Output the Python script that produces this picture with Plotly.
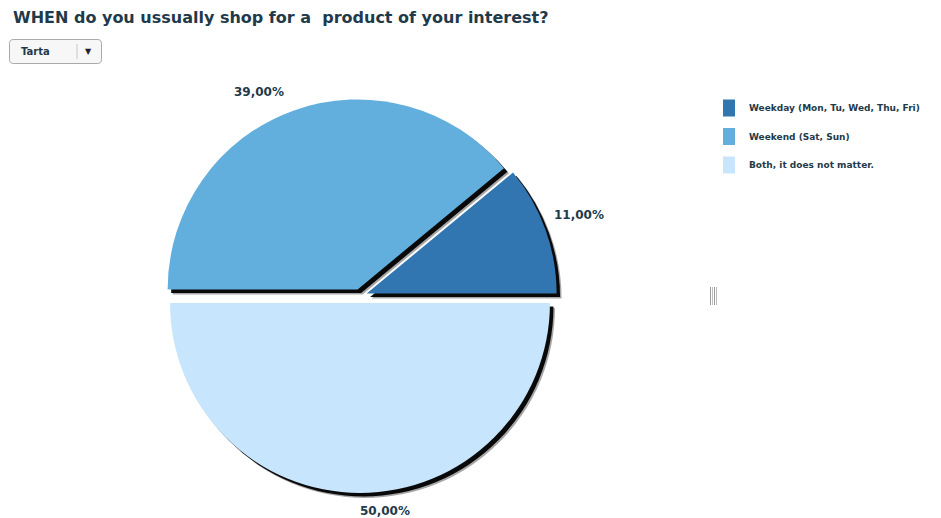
import plotly.graph_objects as go

# Survey answers and their shares (%)
labels = ["Weekday (Mon, Tu, Wed, Thu, Fri)", "Weekend (Sat, Sun)", "Both, it does not matter."]
values = [11.0, 39.0, 50.0]
colors = ["#3176B0", "#62AFDE", "#C7E5FC"]
title_text = "WHEN do you ussually shop for a \u00a0product of your interest?"
chart_type = "Tarta"

W, H = 941, 518
TXT = "#1F3A4A"
FONT = "DejaVu Sans"

# Pie geometry in pixels
cx, cy, size = 360, 296, 394
pull = 0.037
# first slice starts at 3 o'clock and the slices run counterclockwise
rotation = 90 - 360 * values[0] / sum(values)


def dom(px_cx, px_cy):
    return dict(x=[(px_cx - size / 2) / W, (px_cx + size / 2) / W],
                y=[1 - (px_cy + size / 2) / H, 1 - (px_cy - size / 2) / H])


fig = go.Figure()

# drop shadow under the slices
for off, col in [(5, "rgba(0,0,0,0.35)"), (3.5, "rgba(0,0,0,0.95)")]:
    fig.add_trace(go.Pie(
        labels=labels, values=values, sort=False, direction="counterclockwise",
        rotation=rotation, pull=pull, textinfo="none", hoverinfo="skip",
        marker=dict(colors=[col] * len(values), line=dict(width=0)),
        domain=dom(cx + off, cy + off), showlegend=False,
    ))

fig.add_trace(go.Pie(
    labels=labels, values=values, sort=False, direction="counterclockwise",
    rotation=rotation, pull=pull, textinfo="none",
    marker=dict(colors=colors, line=dict(width=0)),
    domain=dom(cx, cy), showlegend=False,
))

# percentage labels
label_pos = [(579, 215), (259, 92), (385, 511)]
for v, (lx, ly) in zip(values, label_pos):
    fig.add_annotation(x=lx / W, y=1 - ly / H, xref="paper", yref="paper",
                       text=f"{v:.2f}".replace(".", ",") + "%", showarrow=False,
                       xanchor="center", yanchor="middle",
                       font=dict(family=FONT, size=12, color=TXT, weight="bold"))

# title
fig.add_annotation(x=11 / W, y=1 - 17 / H, xref="paper", yref="paper", text=title_text,
                   showarrow=False, xanchor="left", yanchor="middle",
                   font=dict(family=FONT, size=16, color=TXT, weight="bold"))

# legend
shapes = []
for i, (lab, col) in enumerate(zip(labels, colors)):
    yc = 108 + i * 28.5
    shapes.append(dict(type="rect", xref="paper", yref="paper",
                       x0=723 / W, x1=735 / W, y0=1 - (yc + 8.5) / H, y1=1 - (yc - 8.5) / H,
                       fillcolor=col, line=dict(width=0), layer="above"))
    fig.add_annotation(x=747 / W, y=1 - yc / H, xref="paper", yref="paper", text=lab,
                       showarrow=False, xanchor="left", yanchor="middle",
                       font=dict(family=FONT, size=9, color=TXT, weight="bold"))

# chart type selector
x0, y0, x1, y1, rr = 9.5, 39.5, 101.5, 63.5, 4


def px(x, y):
    return f"{x / W:.5f},{1 - y / H:.5f}"


path = (f"M {px(x0 + rr, y0)} L {px(x1 - rr, y0)} Q {px(x1, y0)} {px(x1, y0 + rr)} "
        f"L {px(x1, y1 - rr)} Q {px(x1, y1)} {px(x1 - rr, y1)} L {px(x0 + rr, y1)} "
        f"Q {px(x0, y1)} {px(x0, y1 - rr)} L {px(x0, y0 + rr)} Q {px(x0, y0)} {px(x0 + rr, y0)} Z")
shapes.append(dict(type="path", xref="paper", yref="paper", path=path,
                   fillcolor="#F7F7F7", line=dict(color="#A8A8A8", width=1)))
shapes.append(dict(type="line", xref="paper", yref="paper",
                   x0=77 / W, x1=77 / W, y0=1 - 44 / H, y1=1 - 59 / H,
                   line=dict(color="#C8C8C8", width=1)))
fig.add_annotation(x=19 / W, y=1 - 51.5 / H, xref="paper", yref="paper", text=chart_type,
                   showarrow=False, xanchor="left", yanchor="middle",
                   font=dict(family=FONT, size=10, color=TXT, weight="bold"))
fig.add_annotation(x=88.5 / W, y=1 - 51.5 / H, xref="paper", yref="paper", text="\u25BC",
                   showarrow=False, xanchor="center", yanchor="middle",
                   font=dict(family=FONT, size=8, color="#222222"))

# splitter grip
for gx, gc in [(710.5, "#9A9A9A"), (712.5, "#BDBDBD"), (714.5, "#9A9A9A"), (716.5, "#BDBDBD")]:
    shapes.append(dict(type="line", xref="paper", yref="paper",
                       x0=gx / W, x1=gx / W, y0=1 - 287 / H, y1=1 - 305 / H,
                       line=dict(color=gc, width=1)))

fig.update_layout(width=W, height=H, margin=dict(l=0, r=0, t=0, b=0),
                  paper_bgcolor="white", plot_bgcolor="white", shapes=shapes,
                  showlegend=False)

fig.write_html("out.html")
